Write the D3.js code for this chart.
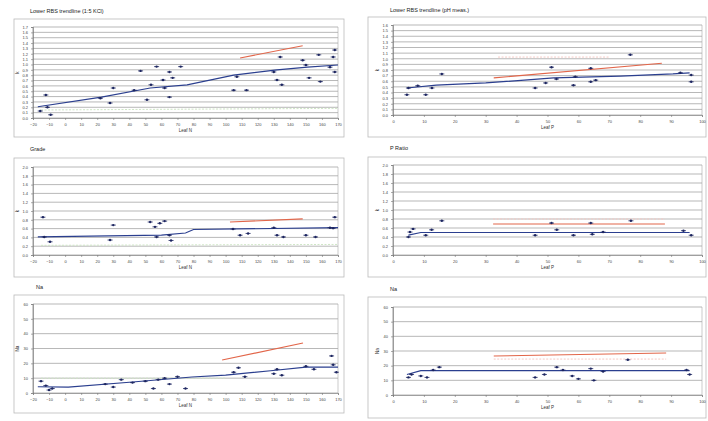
<!DOCTYPE html>
<html>
<head>
<meta charset="utf-8">
<script src="https://cdn.jsdelivr.net/npm/d3@7"></script>
<style>
body { margin: 0; background: #fff; }
svg text { font-family: "Liberation Sans", Arial, sans-serif; fill: #555; }
</style>
</head>
<body>
<svg id="vis" width="708" height="421"></svg>
<script>
// tick labels
const xTicksLeft = [-20, -10, 0, 10, 20, 30, 40, 50, 60, 70, 80, 90, 100, 110, 120, 130, 140, 150, 160, 170];
const xTicksRight = [0, 10, 20, 30, 40, 50, 60, 70, 80, 90, 100];
const yTicksA = [0, 0.1, 0.2, 0.3, 0.4, 0.5, 0.6, 0.7, 0.8, 0.9, 1.0, 1.1, 1.2, 1.3, 1.4, 1.5, 1.6, 1.7];
const yTicksB = [0, 0.1, 0.2, 0.3, 0.4, 0.5, 0.6, 0.7, 0.8, 0.9, 1.0, 1.1, 1.2, 1.3, 1.4, 1.5, 1.6];
const yTicksC = [0, 0.2, 0.4, 0.6, 0.8, 1.0, 1.2, 1.4, 1.6, 1.8, 2.0];
const yTicksD = [0, 10, 20, 30, 40, 50, 60];

const titles = ["Lower RBS trendline (1:5 KCl)", "Lower RBS trendline (pH meas.)", "Grade", "P Ratio", "Na", "Na"];
const xLabels = ["Leaf N", "Leaf P", "Leaf N", "Leaf P", "Leaf N", "Leaf P"];
const yLabels = ["k", "k", "k", "k", "Na", "Na"];

// panel 1
const pts1 = [[-15.5,0.13],[-12,0.43],[-11,0.2],[-9,0.06],[22,0.37],[28,0.28],[30,0.56],[43,0.52],[47,0.88],[51,0.34],[53.5,0.62],[57,0.96],[61,0.71],[62,0.56],[65,0.39],[65,0.86],[67,0.75],[72,0.96],[105,0.52],[107,0.77],[113,0.52],[130,0.86],[132,0.71],[134,1.14],[135,0.62],[148,1.08],[150,0.99],[152,0.75],[158,1.18],[159,0.68],[165,0.95],[167,1.14],[168,1.27],[168,0.86]];
const fit1 = [[-17,0.21],[22.6,0.39],[53,0.56],[76,0.62],[105,0.80],[132,0.90],[151,0.95],[170,0.99]];
const ref1 = [[109,1.12],[148,1.35]];
const alt1 = [[-15,0.15],[170,0.18]];

// panel 2
const pts2 = [[4.5,0.36],[5,0.48],[8,0.52],[10.6,0.36],[12.6,0.48],[15.8,0.73],[46,0.48],[49.4,0.57],[51.3,0.85],[52.9,0.64],[58.4,0.53],[59,0.68],[64,0.83],[64,0.59],[65.6,0.62],[76.8,1.07],[93,0.75],[96.5,0.71],[96.5,0.59]];
const fit2 = [[4.5,0.48],[14,0.53],[30,0.57],[52,0.66],[73.5,0.69],[90.6,0.73],[96,0.75]];
const ref2 = [[32.6,0.66],[87,0.92]];
const alt2 = [[34,1.03],[70,1.03]];

// panel 3
const pts3 = [[-13.8,0.86],[-13,0.41],[-9.4,0.30],[28,0.34],[30,0.68],[53,0.75],[56,0.64],[57,0.41],[59,0.72],[62,0.77],[65,0.45],[66,0.33],[104.6,0.59],[109,0.45],[114,0.49],[130,0.62],[132,0.45],[136,0.41],[150,0.45],[156,0.41],[165,0.62],[167,0.61],[168,0.86]];
const fit3 = [[-17,0.41],[60,0.45],[75,0.50],[80,0.58],[170,0.62]];
const ref3 = [[102.7,0.75],[148,0.82]];
const alt3 = [[-15,0.22],[170,0.24]];

// panel 4
const pts4 = [[5,0.40],[5.5,0.51],[6.5,0.58],[10.6,0.44],[12.5,0.56],[15.8,0.76],[46,0.44],[51.3,0.71],[53,0.56],[58.4,0.44],[64,0.71],[64.5,0.46],[68,0.51],[77,0.76],[94,0.54],[96.5,0.44]];
const fit4 = [[5,0.44],[9,0.50],[96,0.50]];
const ref4 = [[32.4,0.69],[88,0.69]];
const alt4 = [[32.4,0.80],[88,0.80]];

// panel 5
const pts5 = [[-15,8],[-12,5],[-10,2],[-8,3],[25,6],[30,4],[35,9],[42,7],[50,8],[55,3],[58,9],[62,10],[65,6],[70,11],[75,3],[105,14],[108,17],[112,11],[130,13],[132,16],[135,12],[150,18],[155,16],[166,25],[167,19],[169,14]];
const fit5 = [[-17,4.2],[2,4.0],[42,7.4],[79,10.8],[100,12],[128,15],[150,17.5],[170,17.5]];
const ref5 = [[97.8,22.2],[148.2,33.7]];
const alt5 = [[-15,10],[100,10]];

// panel 6
const pts6 = [[5,12],[6,14],[9,13],[11,12],[13,17],[15,19],[46,12],[49,14],[53,19],[55,17],[58,13],[60,11],[64,18],[65,10],[68,16],[76,24],[95,17],[96,14]];
const fit6 = [[4.5,14],[9,16.6],[96,16.6]];
const ref6 = [[32.6,26.6],[88.4,28.6]];
const alt6 = [[32.6,24.5],[88.4,24.5]];

const panels = [
  {box:[14,19,344,137], plot:[33,27,338,118], title:[30,13], xt:xTicksLeft, yt:yTicksA, pts:pts1, fit:fit1, ref:ref1, alt:alt1, fmt:d3.format(".1f")},
  {box:[368,17,706,137], plot:[393,25,702,115], title:[390,12], xt:xTicksRight, yt:yTicksB, pts:pts2, fit:fit2, ref:ref2, alt:alt2, fmt:d3.format(".1f")},
  {box:[14,158,344,277], plot:[33,167,338,255], title:[30,151], xt:xTicksLeft, yt:yTicksC, pts:pts3, fit:fit3, ref:ref3, alt:alt3, fmt:d3.format(".1f")},
  {box:[368,157,706,277], plot:[393,165,702,255], title:[390,150], xt:xTicksRight, yt:yTicksC, pts:pts4, fit:fit4, ref:ref4, alt:alt4, fmt:d3.format(".1f")},
  {box:[14,295,344,413], plot:[33,304,338,393], title:[36,289], xt:xTicksLeft, yt:yTicksD, pts:pts5, fit:fit5, ref:ref5, alt:alt5, fmt:d3.format("d")},
  {box:[368,297,706,418], plot:[393,307,702,395], title:[390,291], xt:xTicksRight, yt:yTicksD, pts:pts6, fit:fit6, ref:ref6, alt:alt6, fmt:d3.format("d")}
];

const svg = d3.select("#vis");
const line = d3.line();

panels.forEach((p, i) => {
  const g = svg.append("g");
  const [bx0, by0, bx1, by1] = p.box;
  const [px0, py0, px1, py1] = p.plot;
  const x = d3.scaleLinear().domain([p.xt[0], p.xt[p.xt.length-1]]).range([px0, px1]);
  const y = d3.scaleLinear().domain([p.yt[0], p.yt[p.yt.length-1]]).range([py1, py0]);

  g.append("rect").attr("x", bx0).attr("y", by0).attr("width", bx1-bx0).attr("height", by1-by0)
    .attr("fill", "none").attr("stroke", "#bbb").attr("stroke-width", 0.8);

  g.append("text").attr("x", p.title[0]).attr("y", p.title[1]).attr("font-size", 5.5)
    .style("fill", "#222").text(titles[i]);

  // gridlines
  g.append("g").selectAll("line").data(p.yt).join("line")
    .attr("x1", px0).attr("x2", px1).attr("y1", d => y(d)).attr("y2", d => y(d))
    .attr("stroke", "#888").attr("stroke-width", 0.6);
  g.append("line").attr("x1", px0).attr("x2", px0).attr("y1", py0).attr("y2", py1).attr("stroke", "#777").attr("stroke-width", 0.7);
  g.append("line").attr("x1", px1).attr("x2", px1).attr("y1", py0).attr("y2", py1).attr("stroke", "#aaa").attr("stroke-width", 0.6);

  const xa = g.append("g").attr("transform", `translate(0,${py1})`)
    .call(d3.axisBottom(x).tickValues(p.xt).tickSize(2).tickFormat(d3.format("d")));
  const ya = g.append("g").attr("transform", `translate(${px0},0)`)
    .call(d3.axisLeft(y).tickValues(p.yt).tickSize(2).tickFormat(p.fmt));
  [xa, ya].forEach(a => {
    a.select(".domain").attr("stroke", "#777").attr("stroke-width", 0.6);
    a.selectAll(".tick line").attr("stroke", "#777").attr("stroke-width", 0.6);
    a.selectAll("text").attr("font-size", 4).style("fill", "#444");
  });

  g.append("text").attr("x", (px0+px1)/2).attr("y", py1 + 14).attr("text-anchor", "middle")
    .attr("font-size", 4.5).style("fill", "#333").text(xLabels[i]);
  g.append("text").attr("transform", `translate(${px0-14},${(py0+py1)/2}) rotate(-90)`)
    .attr("text-anchor", "middle").attr("font-size", 4.5).style("fill", "#333").text(yLabels[i]);

  // light extra series
  g.append("path").datum(p.alt.map(d => [x(d[0]), y(d[1])])).attr("d", line)
    .attr("fill", "none").attr("stroke", i % 2 ? "#f4c9c4" : "#cfe6c6").attr("stroke-width", 1).attr("stroke-dasharray", "2,1.5");

  // reference line (red)
  g.append("path").datum(p.ref.map(d => [x(d[0]), y(d[1])])).attr("d", line)
    .attr("fill", "none").attr("stroke", "#e2664a").attr("stroke-width", 1.1);

  // fitted line (blue)
  g.append("path").datum(p.fit.map(d => [x(d[0]), y(d[1])])).attr("d", line)
    .attr("fill", "none").attr("stroke", "#2b3f8f").attr("stroke-width", 1.2);

  // points with short bars
  const pg = g.append("g");
  pg.selectAll("line").data(p.pts).join("line")
    .attr("x1", d => x(d[0]) - 2.5).attr("x2", d => x(d[0]) + 2.5)
    .attr("y1", d => y(d[1])).attr("y2", d => y(d[1]))
    .attr("stroke", "#1c2560").attr("stroke-width", 0.8);
  pg.selectAll("circle").data(p.pts).join("circle")
    .attr("cx", d => x(d[0])).attr("cy", d => y(d[1])).attr("r", 1.2)
    .attr("fill", "#1c2560");
});
</script>
</body>
</html>
